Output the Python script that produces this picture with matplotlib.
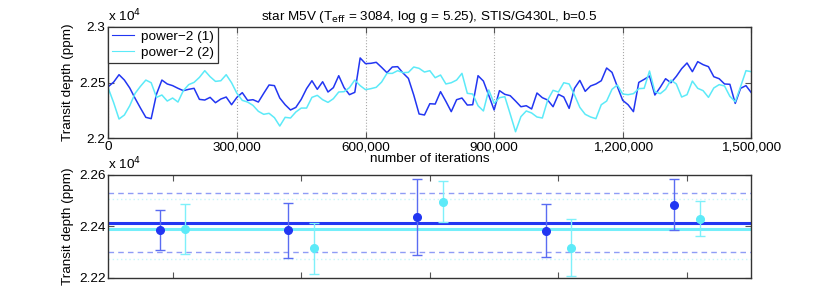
import numpy as np
import matplotlib
matplotlib.use('Agg')
import matplotlib.pyplot as plt
from matplotlib.ticker import FuncFormatter

plt.rcParams['font.family'] = ['Liberation Sans', 'DejaVu Sans']
plt.rcParams['font.size'] = 9.7

# MCMC chains (transit depth, ppm), one sample every 12,500 iterations
step = 12500
chain1 = [22463, 22504, 22570, 22522, 22451, 22358, 22271, 22188, 22176, 22397,
          22522, 22487, 22472, 22448, 22427, 22439, 22448, 22349, 22343, 22367,
          22319, 22352, 22370, 22301, 22367, 22409, 22340, 22346, 22325, 22403,
          22478, 22472, 22361, 22301, 22254, 22277, 22349, 22445, 22516, 22439,
          22507, 22415, 22454, 22561, 22454, 22391, 22412, 22720, 22669, 22672,
          22681, 22636, 22588, 22639, 22642, 22585, 22537, 22388, 22218, 22209,
          22310, 22307, 22418, 22331, 22239, 22346, 22361, 22298, 22301, 22561,
          22513, 22385, 22254, 22427, 22394, 22382, 22334, 22283, 22292, 22263,
          22406, 22364, 22343, 22283, 22394, 22370, 22268, 22448, 22519, 22421,
          22469, 22487, 22516, 22630, 22591, 22463, 22340, 22301, 22239, 22501,
          22528, 22558, 22388, 22457, 22534, 22498, 22555, 22624, 22675, 22597,
          22687, 22660, 22642, 22552, 22534, 22487, 22484, 22313, 22448, 22472,
          22409]
chain2 = [22448, 22319, 22173, 22209, 22292, 22403, 22466, 22522, 22498, 22367,
          22388, 22334, 22361, 22325, 22427, 22481, 22501, 22546, 22606, 22552,
          22510, 22516, 22570, 22498, 22403, 22340, 22325, 22295, 22242, 22215,
          22224, 22185, 22110, 22188, 22182, 22236, 22271, 22271, 22367, 22385,
          22346, 22322, 22355, 22415, 22418, 22454, 22522, 22472, 22436, 22445,
          22457, 22504, 22582, 22582, 22606, 22588, 22591, 22639, 22627, 22594,
          22606, 22543, 22567, 22487, 22498, 22522, 22582, 22403, 22397, 22292,
          22245, 22433, 22313, 22364, 22373, 22218, 22059, 22194, 22245, 22227,
          22191, 22182, 22343, 22430, 22415, 22498, 22487, 22388, 22277, 22215,
          22191, 22176, 22301, 22334, 22439, 22478, 22397, 22391, 22400, 22445,
          22448, 22603, 22418, 22400, 22439, 22522, 22487, 22370, 22391, 22513,
          22448, 22427, 22367, 22451, 22481, 22469, 22376, 22328, 22463, 22606,
          22597]
iterations = np.arange(len(chain1)) * step

# per-segment estimates
groups = [1, 2, 3, 4, 5]
depth1 = [22384, 22384, 22435, 22383, 22484]
err1 = [78, 108, 147, 102, 98]
depth2 = [22388, 22314, 22495, 22317, 22429]
err2 = [97, 98, 79, 111, 69]
band1 = [22300, 22530]
band2 = [22274, 22504]

blue = '#2236f2'
cyan = '#5ceaf8'

fig = plt.figure(figsize=(8.3, 2.91), dpi=100)
ax1 = fig.add_axes([0.1305, 0.5247, 0.7747, 0.3835])
ax2 = fig.add_axes([0.1305, 0.0457, 0.7747, 0.354])

ax1.plot(iterations, chain1, color=blue, lw=1.1, label='power\u22122 (1)')
ax1.plot(iterations, chain2, color=cyan, lw=1.1, label='power\u22122 (2)')
ax1.set_xlim(0, 1500000)
ax1.set_ylim(22000, 23000)
ax1.set_xticks([0, 300000, 600000, 900000, 1200000, 1500000])
ax1.set_yticks([22000, 22500, 23000])
ax1.xaxis.set_major_formatter(FuncFormatter(lambda v, p: '{:,}'.format(int(v))))
ax1.yaxis.set_major_formatter(FuncFormatter(lambda v, p: '%g' % (v / 1e4)))
ax1.xaxis.grid(True, ls=':', color='#a8a8a8', lw=0.8)
ax1.set_xlabel('number of iterations', labelpad=0)
ax1.set_ylabel('Transit depth (ppm)')
ax1.set_title('star M5V (T$_{\\rm eff}$ = 3084, log g = 5.25), STIS/G430L, b=0.5',
              fontsize=9.7, pad=5)
leg = ax1.legend(loc='upper left', borderaxespad=0, fancybox=False,
                 edgecolor='#333333', framealpha=1, handlelength=1.6,
                 borderpad=0.3, labelspacing=0.25, handletextpad=0.5)
leg.get_frame().set_linewidth(0.9)
for line in leg.get_lines():
    line.set_linewidth(0.8)

# mean and spread lines
ax2.axhline(np.mean(depth1), color=blue, lw=2.2)
ax2.axhline(np.mean(depth2), color='#74eefa', lw=2.2)
for b in band1:
    ax2.axhline(b, color='#8f9cf6', lw=1, ls=(0, (4, 3)))
for b in band2:
    ax2.axhline(b, color='#c8f6fa', lw=1, ls=(0, (1, 2)))

x = np.array(groups)
ax2.errorbar(x - 0.1, depth1, yerr=err1, fmt='o', color=blue, ecolor='#5a6cf2',
             ms=5.5, capsize=3.6, elinewidth=1, capthick=1)
ax2.errorbar(x + 0.1, depth2, yerr=err2, fmt='o', color=cyan, ecolor='#7ef0fa',
             ms=5.5, capsize=3.6, elinewidth=1, capthick=1)
ax2.set_xlim(0.5, 5.5)
ax2.set_ylim(22200, 22600)
ax2.set_xticks(groups)
ax2.set_xticklabels([])
ax2.set_yticks([22200, 22400, 22600])
ax2.yaxis.set_major_formatter(FuncFormatter(lambda v, p: '%g' % (v / 1e4)))
ax2.set_ylabel('Transit depth (ppm)')

for ax in (ax1, ax2):
    ax.tick_params(direction='in', top=True, right=True, length=4,
                   color='#555555', width=0.8, pad=2)
    for s in ax.spines.values():
        s.set_color('#333333')
        s.set_linewidth(1)
    ax.yaxis.set_label_coords(-0.053, 0.5)
    ax.annotate('x 10$^{4}$', xy=(0, 1), xycoords='axes fraction',
                xytext=(0, 1.5), textcoords='offset points', ha='left', va='bottom')

fig.savefig('out.png', dpi=100)
